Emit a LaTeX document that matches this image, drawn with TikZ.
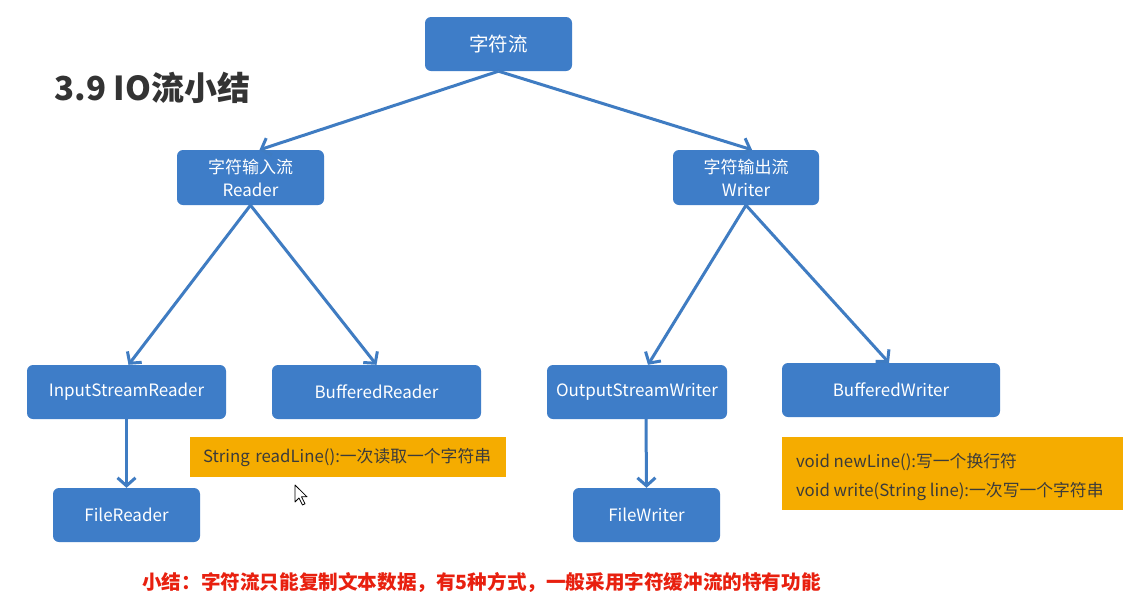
\documentclass[tikz,border=0pt]{standalone}
\usepackage{fontspec}
\setmainfont{Noto Sans CJK SC}
\usetikzlibrary{arrows.meta}
\definecolor{nodeblue}{HTML}{3E7DC8}
\definecolor{lineblue}{HTML}{3F7CC2}
\definecolor{noteorange}{HTML}{F5AC00}
\definecolor{notetext}{HTML}{3B3B3B}
\definecolor{sumred}{HTML}{E8200F}
\definecolor{titlegray}{HTML}{333333}
\begin{document}
\begin{tikzpicture}[x=1pt,y=-1pt,
 box/.style={fill=nodeblue, rounded corners=6pt, text=white, inner sep=0pt, align=center,
   minimum height=54pt, font=\fontsize{17}{23}\selectfont},
 note/.style={fill=noteorange, inner ysep=0pt, text=notetext, align=left,
   font=\fontsize{16.8}{29}\selectfont},
 notetxt/.style={text=notetext, align=left, inner sep=0pt, anchor=west,
   font=\fontsize{16.8}{29}\selectfont},
 conn/.style={draw=lineblue, line width=3pt, -{Straight Barb[length=8pt,width=18pt]}}]
\fill[white] (0,0) rectangle (1142,606);
\useasboundingbox (0,0) rectangle (1142,606);

\node[anchor=west, text=titlegray, font=\fontsize{33}{36}\bfseries] (title) at (51,88) {3.9 IO流小结};

\node[box, minimum width=147pt, font=\fontsize{19.5}{23}\selectfont] (root) at (498.5,44) {字符流};
\node[box, minimum width=147pt, minimum height=55pt] (reader) at (250.5,177.5) {字符输入流\\Reader};
\node[box, minimum width=146pt, minimum height=55pt] (writer) at (746,177.5) {字符输出流\\Writer};
\node[box, minimum width=199pt] (isr) at (126.5,392) {InputStreamReader};
\node[box, minimum width=209pt] (br) at (376.5,392) {BufferedReader};
\node[box, minimum width=180pt] (osw) at (637,392) {OutputStreamWriter};
\node[box, minimum width=218pt] (bw) at (891,390) {BufferedWriter};
\node[box, minimum width=147pt] (fr) at (126.5,515) {FileReader};
\node[box, minimum width=147pt] (fw) at (646.5,515) {FileWriter};

\node[note, inner xsep=13pt, text width=290pt, minimum height=40pt] (n1) at (348,457)
  {String readLine():一次读取一个字符串};
\node[note, inner sep=0pt, minimum width=341pt, minimum height=73pt] (n2) at (952.5,473.5) {};
\node[notetxt] (n2t) at ([xshift=14pt,yshift=-4pt]n2.west)
  {void newLine():写一个换行符\\void write(String line):一次写一个字符串};

\node[text=sumred, font=\fontsize{19.6}{23}\bfseries] (sum) at (481.5,582)
  {小结：字符流只能复制文本数据，有5种方式，一般采用字符缓冲流的特有功能};

\draw[conn] (root.south) -- ([xshift=9pt]reader.north);
\draw[conn] (root.south) -- ([xshift=6pt]writer.north);
\draw[conn] (reader.south) -- ([xshift=2pt]isr.north);
\draw[conn] (reader.south) -- (br.north);
\draw[conn] (writer.south) -- ([xshift=11pt]osw.north);
\draw[conn] (writer.south) -- ([xshift=-2pt]bw.north);
\draw[conn] (isr.south) -- (fr.north);
\draw[conn] ([xshift=9pt]osw.south) -- (fw.north);

% mouse pointer
\coordinate (cur) at (295,485);
\draw[black, fill=white, line width=0.8pt, line join=round]
  (cur) -- ++(0,17) -- ++(4,-4) -- ++(3.5,7) -- ++(2.5,-1.2) -- ++(-3.5,-7) -- ++(5.5,0) -- cycle;
\end{tikzpicture}
\end{document}
